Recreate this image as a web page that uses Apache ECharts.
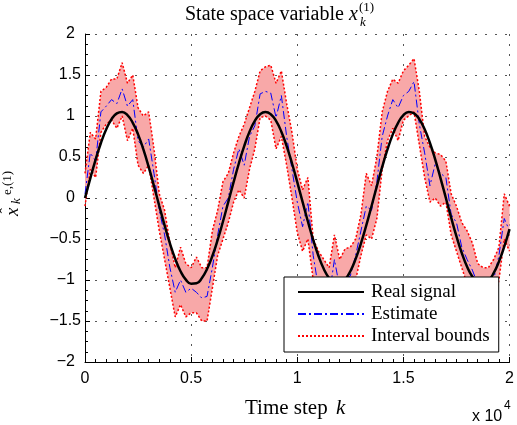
<!DOCTYPE html>
<html>
<head>
<meta charset="utf-8">
<script src="https://cdn.jsdelivr.net/npm/echarts@6/dist/echarts.min.js"></script>
<style>html,body{margin:0;padding:0;background:#fff;}#chart{width:517px;height:425px;}</style>
</head>
<body>
<div id="chart"></div>
<script>
// Time steps k
var timeSteps = [0,250,500,750,1000,1250,1500,1750,2000,2250,2500,2750,3000,3250,3500,3750,4000,4250,4500,4750,
  5000,5250,5500,5750,6000,6250,6500,6750,7000,7250,7500,7750,8000,8250,8500,8750,9000,9250,9500,9750,
  10000,10250,10500,10750,11000,11250,11500,11750,12000,12250,12500,12750,13000,13250,13500,13750,14000,14250,14500,14750,
  15000,15250,15500,15750,16000,16250,16500,16750,17000,17250,17500,17750,18000,18250,18500,18750,19000,19250,19500,19750,20000];

// Real signal
var realSignal = [0,0.240,0.468,0.671,0.838,0.961,1.032,1.049,1.010,0.917,0.776,0.593,0.379,0.145,
  -0.097,-0.334,-0.553,-0.742,-0.893,-0.996,-1.045,-1.040,-0.979,-0.866,-0.707,-0.511,-0.287,-0.048,
  0.193,0.424,0.633,0.808,0.940,1.022,1.050,1.022,0.940,0.808,0.633,0.424,0.193,
  -0.048,-0.287,-0.511,-0.707,-0.866,-0.979,-1.040,-1.045,-0.996,-0.893,-0.742,-0.553,-0.334,-0.097,
  0.145,0.379,0.593,0.776,0.917,1.010,1.049,1.032,0.961,0.838,0.671,0.468,0.240,0,
  -0.240,-0.468,-0.671,-0.838,-0.961,-1.032,-1.049,-1.010,-0.917,-0.776,-0.593,-0.379];

// Estimate
var estimate = [0.05,0.55,0.45,1.05,1.12,1.2,1.15,1.33,1.12,1.2,0.7,0.62,0.72,0.3,-0.15,-0.45,-0.85,-1.15,-1.0,-1.15,
  -1.1,-1.15,-1.22,-1.2,-0.85,-0.45,-0.1,0.0,0.35,0.6,0.4,0.75,0.88,1.27,1.3,1.28,0.98,1.25,0.75,0.35,
  -0.05,-0.35,-0.05,-0.7,-1.1,-1.15,-1.2,-0.75,-1.1,-1.0,-0.95,-0.7,-0.4,-0.1,-0.15,0.2,0.75,1.0,1.2,1.1,
  1.25,1.3,1.42,0.9,0.55,0.15,0.42,0.3,0.25,-0.2,-0.3,-0.6,-0.75,-0.88,-1.05,-1.1,-1.1,-1.0,-0.7,-0.25,-0.4];

// Interval bounds
var upperBound = [0.3,0.8,0.72,1.3,1.35,1.45,1.45,1.65,1.4,1.5,1.1,1.0,1.05,0.6,0.05,-0.15,-0.55,-0.85,-0.6,-0.8,
  -0.85,-0.72,-0.85,-0.85,-0.4,-0.15,0.2,0.3,0.55,0.75,0.9,1.1,1.3,1.55,1.6,1.62,1.4,1.55,1.15,0.8,
  0.35,0.1,0.25,-0.5,-0.65,-0.75,-0.85,-0.45,-0.75,-0.62,-0.6,-0.5,-0.2,0.3,0.15,0.5,1.05,1.3,1.45,1.4,
  1.55,1.62,1.7,1.3,0.75,0.62,0.55,0.53,0.45,0.05,-0.1,-0.3,-0.4,-0.55,-0.8,-0.85,-0.85,-0.75,-0.6,0.05,-0.1];
var lowerBound = [-0.1,0.35,0.25,0.8,0.9,0.95,0.85,1.0,0.7,0.85,0.4,0.3,0.4,0.0,-0.4,-0.75,-1.1,-1.45,-1.3,-1.45,
  -1.4,-1.4,-1.5,-1.5,-1.1,-0.7,-0.5,-0.3,-0.05,0.1,0.0,0.35,0.6,0.98,1.0,0.95,0.6,0.75,0.4,0.0,
  -0.42,-0.65,-0.5,-1.0,-1.35,-1.45,-1.5,-1.1,-1.4,-1.35,-1.25,-1.0,-0.7,-0.45,-0.5,-0.25,0.35,0.7,0.85,0.7,
  0.95,1.0,1.05,0.65,0.25,-0.05,0.0,-0.1,-0.05,-0.45,-0.65,-0.85,-1.05,-1.2,-1.35,-1.4,-1.4,-1.3,-1.0,-0.5,-0.65];

// Tick labels
var xTickValues = [0,5000,10000,15000,20000];
var xTickLabels = ['0','0.5','1','1.5','2'];
var yTickValues = [-2,-1.5,-1,-0.5,0,0.5,1,1.5,2];
var yTickLabels = ['\u22122','\u22121.5','\u22121','\u22120.5','0','0.5','1','1.5','2'];

function pairs(ys){ return timeSteps.map(function(k,i){ return [k, ys[i]]; }); }

var serif = 'Liberation Serif';
var sans = 'Liberation Sans';

var chart = echarts.init(document.getElementById('chart'), null, {renderer:'canvas'});
var gridLine = {show:true, lineStyle:{color:'#555', type:[2,8], width:1}};

function renderBand(params, api){
  var pts = [];
  for (var i=0;i<timeSteps.length;i++) pts.push(api.coord([timeSteps[i], upperBound[i]]));
  for (var j=timeSteps.length-1;j>=0;j--) pts.push(api.coord([timeSteps[j], lowerBound[j]]));
  return {type:'polygon', shape:{points:pts}, style:{fill:'#f8a8a8', stroke:null}};
}

chart.setOption({
  animation:false,
  backgroundColor:'#fff',
  grid:{left:85, right:4, top:34, bottom:63, containLabel:false},
  xAxis:{
    type:'value', min:0, max:20000, interval:5000,
    axisLine:{show:true, onZero:false, lineStyle:{color:'#000', width:1}},
    axisTick:{show:true, inside:true, length:5, lineStyle:{color:'#000'}},
    minorTick:{show:true, splitNumber:10, length:3, lineStyle:{color:'#000'}},
    splitLine:gridLine,
    axisLabel:{
      fontFamily:sans, fontSize:16, color:'#000', margin:9,
      formatter:function(v){ var i = xTickValues.indexOf(v); return i>=0 ? xTickLabels[i] : ''; }
    }
  },
  yAxis:{
    type:'value', min:-2, max:2, interval:0.5,
    axisLine:{show:true, onZero:false, lineStyle:{color:'#000', width:1}},
    axisTick:{show:true, inside:true, length:5, lineStyle:{color:'#000'}},
    minorTick:{show:true, splitNumber:4, length:3, lineStyle:{color:'#000'}},
    splitLine:gridLine,
    axisLabel:{
      fontFamily:sans, fontSize:16, color:'#000', margin:4,
      formatter:function(v){
        var i = -1;
        for (var j=0;j<yTickValues.length;j++){ if (Math.abs(yTickValues[j]-v)<1e-9) i=j; }
        if (i<0) return '';
        var s = yTickLabels[i];
        return s.indexOf('.')>=0 ? '{d|'+s+'}' : '{n|'+s+'}';
      },
      rich:{
        d:{fontFamily:sans, fontSize:16, color:'#000'},
        n:{fontFamily:sans, fontSize:16, color:'#000', padding:[0,6,0,0]}
      }
    }
  },
  legend:{
    orient:'vertical', left:284, top:277,
    backgroundColor:'#fff', borderColor:'#000', borderWidth:1, borderRadius:0,
    padding:[5,9,6,13], itemGap:2, itemWidth:66, itemHeight:20,
    textStyle:{fontFamily:serif, fontSize:19, color:'#000', lineHeight:20, padding:[0,0,0,2]},
    itemStyle:{opacity:0},
    data:['Real signal','Estimate','Interval bounds']
  },
  series:[
    {name:'band', type:'custom', renderItem:renderBand, data:[[0,0]], encode:{x:0,y:1}, clip:true, silent:true},
    {name:'Interval bounds', type:'line', data:pairs(upperBound), symbol:'none',
     itemStyle:{color:'#ff0000'}, lineStyle:{color:'#ff0000', width:1.5, type:[2,2]}},
    {name:'Interval bounds', type:'line', data:pairs(lowerBound), symbol:'none',
     itemStyle:{color:'#ff0000'}, lineStyle:{color:'#ff0000', width:1.5, type:[2,2]}},
    {name:'Estimate', type:'line', data:pairs(estimate), symbol:'none',
     itemStyle:{color:'#0000ff'}, lineStyle:{color:'#0000ff', width:1, type:[8,3,2,3]}},
    {name:'Real signal', type:'line', data:pairs(realSignal), symbol:'none', smooth:true,
     itemStyle:{color:'#000'}, lineStyle:{color:'#000', width:2.5}}
  ],
  graphic:[
    // Title
    {type:'text', x:185, y:14.5, style:{text:'State space variable', font:'20px "'+serif+'"', fill:'#000', textAlign:'left', textVerticalAlign:'middle'}},
    {type:'text', x:349, y:14.5, style:{text:'x', font:'italic 20px "'+serif+'"', fill:'#000', textAlign:'left', textVerticalAlign:'middle'}},
    {type:'text', x:360, y:23, style:{text:'k', font:'italic 13px "'+serif+'"', fill:'#000', textAlign:'left', textVerticalAlign:'middle'}},
    {type:'text', x:359, y:8, style:{text:'(1)', font:'13px "'+serif+'"', fill:'#000', textAlign:'left', textVerticalAlign:'middle'}},
    // X axis title
    {type:'text', x:245, y:408, style:{text:'Time step', font:'21px "'+serif+'"', fill:'#000', textAlign:'left', textVerticalAlign:'middle'}},
    {type:'text', x:336, y:408, style:{text:'k', font:'italic 21px "'+serif+'"', fill:'#000', textAlign:'left', textVerticalAlign:'middle'}},
    // Exponent
    {type:'text', x:472, y:417, style:{text:'x 10', font:'16px "'+sans+'"', fill:'#000', textAlign:'left', textVerticalAlign:'middle'}},
    {type:'text', x:504, y:406, style:{text:'4', font:'12px "'+sans+'"', fill:'#000', textAlign:'left', textVerticalAlign:'middle'}},
    // Y axis title (rotated)
    {type:'group', x:13, y:216, rotation:Math.PI/2, children:[
      {type:'text', x:0, y:0, style:{text:'x', font:'italic 19px "'+serif+'"', fill:'#000', textAlign:'left', textVerticalAlign:'middle'}},
      {type:'text', x:2.5, y:-6, style:{text:'\u02C6', font:'16px "'+serif+'"', fill:'#000', textAlign:'left', textVerticalAlign:'middle'}},
      {type:'text', x:12, y:4, style:{text:'k', font:'italic 13px "'+serif+'"', fill:'#000', textAlign:'left', textVerticalAlign:'middle'}},
      {type:'text', x:21, y:-5, style:{text:'e,(1)', font:'13px "'+serif+'"', fill:'#000', textAlign:'left', textVerticalAlign:'middle'}}
    ]}
  ]
});
</script>
</body>
</html>
